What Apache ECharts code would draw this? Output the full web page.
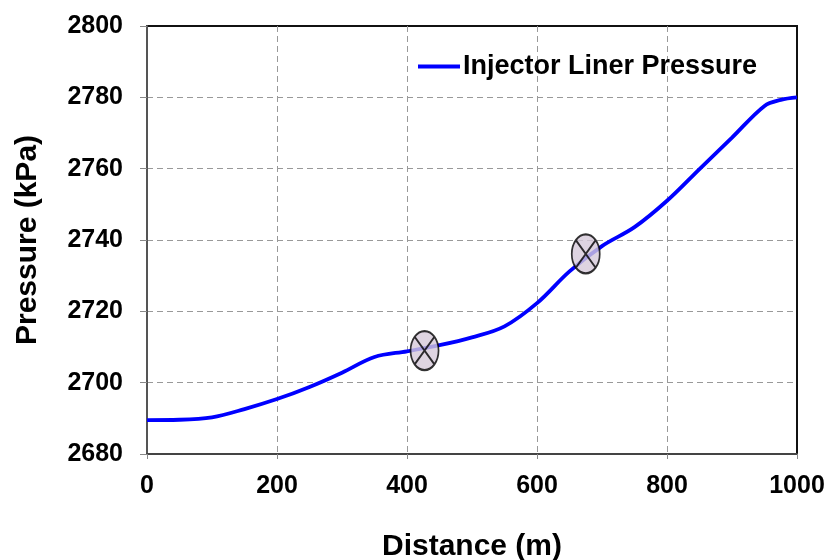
<!DOCTYPE html>
<html>
<head>
<meta charset="utf-8">
<title>Injector Liner Pressure</title>
<script src="https://cdn.jsdelivr.net/npm/echarts@6/dist/echarts.min.js"></script>
<style>
	html, body { margin: 0; padding: 0; background: #fff; }
	#pressurechart { width: 830px; height: 560px; }
</style>
</head>
<body>
<div id="pressurechart"></div>
<script>
// 沿程距离 (m) 与压力 (kPa)
var distance = [0, 50, 100, 150, 200, 250, 300, 350, 400, 450, 500, 550, 600, 650, 700, 750, 800, 850, 900, 950, 975, 1000];
var pressure = [2689.5, 2689.6, 2690.3, 2692.6, 2695.4, 2698.8, 2702.8, 2707.2, 2708.8, 2710.5, 2712.7, 2715.8, 2722.3, 2731.2, 2738.3, 2743.6, 2751.0, 2759.9, 2768.7, 2777.6, 2779.3, 2780.0];
// 两个标记点
var markDistance = [427, 675];
var markPressure = [2709.0, 2736.1];
var yTicks = [2680, 2800, 20];
var xTicks = [0, 1000, 200];

function getpressureline(){
	var myChart = echarts.init(document.getElementById('pressurechart'));
	var lineData = [];
	for (var i = 0; i < distance.length; i++) {
		lineData.push([distance[i], pressure[i]]);
	}
	var markData = [];
	for (var j = 0; j < markDistance.length; j++) {
		markData.push([markDistance[j], markPressure[j]]);
	}
	var fontName = '"Liberation Sans", Arial, sans-serif';
	option = {
		animation: false,
		grid: {
			left: 147,
			right: 33,
			top: 26,
			bottom: 106,
			outerBoundsMode: 'none',
			containLabel: false,
			show: true,
			borderColor: '#111',
			borderWidth: 2
		},
		legend: {
			left: 413,
			top: 48,
			itemWidth: 42,
			itemHeight: 14,
			itemGap: 4,
			data: [{name: 'Injector Liner Pressure', icon: 'path://M0,0L40,0L40,4L0,4Z'}],
			textStyle: {
				fontFamily: fontName,
				fontWeight: 'bold',
				fontSize: 27,
				color: '#000',
				padding: [0, 0, 0, -2]
			}
		},
		xAxis: {
			type: 'value',
			min: xTicks[0],
			max: xTicks[1],
			interval: xTicks[2],
			name: 'Distance (m)',
			nameLocation: 'middle',
			nameGap: 78,
			nameTextStyle: {
				fontFamily: fontName,
				fontWeight: 'bold',
				fontSize: 30,
				color: '#000'
			},
			axisLine: {
				lineStyle: {color: '#444', width: 2}
			},
			axisTick: {
				show: true,
				inside: false,
				length: 5,
				lineStyle: {color: '#888'}
			},
			axisLabel: {
				margin: 20,
				fontFamily: fontName,
				fontWeight: 'bold',
				fontSize: 25,
				color: '#000',
				formatter: function (v) { return String(v); }
			},
			splitLine: {
				show: true,
				showMinLine: false,
				showMaxLine: false,
				lineStyle: {color: '#999', type: [6, 4], width: 1}
			}
		},
		yAxis: {
			type: 'value',
			min: yTicks[0],
			max: yTicks[1],
			interval: yTicks[2],
			name: 'Pressure (kPa)',
			nameLocation: 'middle',
			nameGap: 104,
			nameTextStyle: {
				fontFamily: fontName,
				fontWeight: 'bold',
				fontSize: 30,
				color: '#000'
			},
			axisLine: {
				show: true,
				lineStyle: {color: '#555', width: 2}
			},
			axisTick: {
				show: true,
				inside: false,
				length: 7,
				lineStyle: {color: '#888'}
			},
			axisLabel: {
				margin: 24,
				fontFamily: fontName,
				fontWeight: 'bold',
				fontSize: 25,
				color: '#000',
				formatter: function (v) { return String(v); }
			},
			splitLine: {
				show: true,
				showMinLine: false,
				showMaxLine: false,
				lineStyle: {color: '#999', type: [6, 4], width: 1}
			}
		},
		series: [
			{
				name: 'Injector Liner Pressure',
				type: 'line',
				data: lineData,
				smooth: 0.35,
				showSymbol: false,
				symbol: 'none',
				color: '#0000ff',
				lineStyle: {color: '#0000ff', width: 3.8},
				z: 3
			},
			{
				name: 'marks',
				type: 'scatter',
				data: markData,
				symbol: 'path://M50,0A50,50,0,1,1,50,100A50,50,0,1,1,50,0ZM14.6,14.6L85.4,85.4M85.4,14.6L14.6,85.4',
				symbolSize: [28, 39],
				itemStyle: {
					color: '#d6c9d9',
					borderColor: '#000',
					borderWidth: 2
				},
				z: 4
			}
		]
	};
	myChart.setOption(option);
}
getpressureline();
</script>
</body>
</html>
